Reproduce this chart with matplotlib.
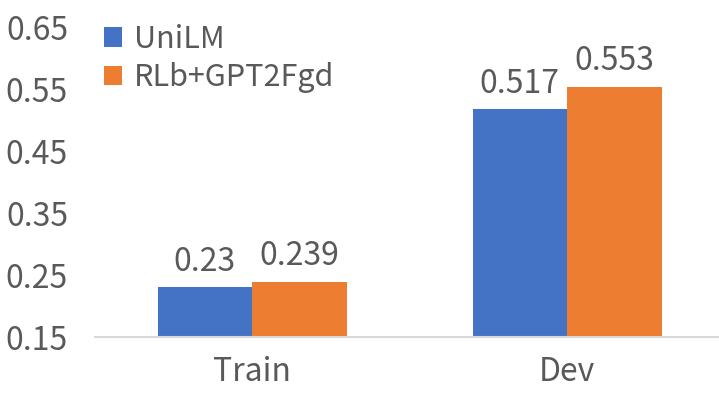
import matplotlib.pyplot as plt
import numpy as np

plt.rcParams['font.family'] = ['Noto Sans CJK SC', 'DejaVu Sans']

categories = ["Train", "Dev"]
unilm = [0.23, 0.517]
rlb = [0.239, 0.553]
series_names = ["UniLM", "RLb+GPT2Fgd"]
yticks = [0.15, 0.25, 0.35, 0.45, 0.55, 0.65]

text_color = "#595959"
fs = 23

fig = plt.figure(figsize=(7.19, 3.96), dpi=100)
ax = fig.add_axes([94.5 / 719, 59 / 396, 630 / 719, 310 / 396])

x = np.arange(len(categories))
w = 0.3
b1 = ax.bar(x - w / 2, unilm, w, color="#4472C4", label=series_names[0])
b2 = ax.bar(x + w / 2, rlb, w, color="#ED7D31", label=series_names[1])

# value labels above bars
for bars, vals in [(b1, unilm), (b2, rlb)]:
    for bar, v in zip(bars, vals):
        ax.annotate(f"{v:g}", (bar.get_x() + bar.get_width() / 2, v),
                    xytext=(0, 7), textcoords="offset points",
                    ha="center", va="bottom", fontsize=fs, color=text_color)

ax.set_xlim(-0.5, 1.5)
ax.set_ylim(0.15, 0.65)
ax.set_yticks(yticks)
ax.set_yticklabels([f"{t:.2f}" for t in yticks])
ax.set_xticks(x)
ax.set_xticklabels(categories)
ax.tick_params(axis="both", length=0, labelsize=fs, labelcolor=text_color)
ax.tick_params(axis="y", pad=19)
ax.tick_params(axis="x", pad=14)

for s in ["top", "right", "left"]:
    ax.spines[s].set_visible(False)
ax.spines["bottom"].set_color("#d9d9d9")
ax.spines["bottom"].set_linewidth(1.5)

leg = ax.legend(loc="upper left", bbox_to_anchor=(-0.005, 1.05), frameon=False,
                fontsize=22, handlelength=0.6, handleheight=0.6,
                handletextpad=0.4, labelspacing=0.25, borderaxespad=0.0)
for t in leg.get_texts():
    t.set_color(text_color)

fig.savefig("out.png", dpi=100)
